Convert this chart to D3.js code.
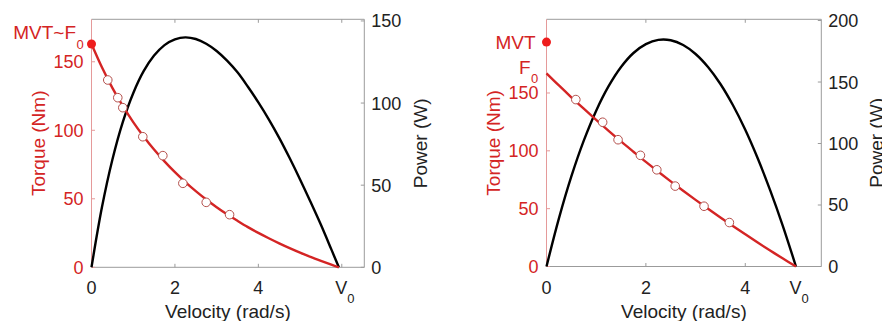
<!DOCTYPE html>
<head>
  <meta charset="utf-8">
  <script src="https://d3js.org/d3.v7.min.js"></script>
  <style>
    body { margin:0; background:#fff; }
    text { font-family: "Liberation Sans", Arial, sans-serif; }
  </style>
</head>
<body>
<script>
// ---- left panel (curved torque-velocity) ----
var velA    = [0, 0.25, 0.5, 0.75, 1, 1.25, 1.5, 1.75, 2, 2.25, 2.5, 2.75, 3, 3.25, 3.5, 3.75, 4, 4.25, 4.5, 4.75, 5, 5.25, 5.5, 5.75, 5.93];
var torqueA = [163, 146, 131, 117.8, 106, 95.5, 85.9, 77.3, 69.4, 62.2, 55.6, 49.5, 43.9, 38.7, 33.9, 29.3, 25.1, 21.2, 17.5, 14, 10.7, 7.6, 4.7, 1.9, 0];
var powerA  = [0, 36.5, 65.5, 88.4, 106, 119.4, 128.9, 135.3, 138.8, 140, 139, 136.1, 131.7, 125.8, 118.7, 109.9, 100.4, 90.1, 78.8, 66.5, 53.5, 39.9, 25.9, 10.9, 0];
var obsVelA = [0.39, 0.63, 0.75, 1.23, 1.71, 2.19, 2.75, 3.31];
var obsTorA = [136.7, 123.8, 116.5, 95.3, 81.5, 61.3, 47.4, 38.4];
var mvtA = 163, v0A = 5.93;

// ---- right panel (near-linear torque-velocity) ----
var velB    = [0, 0.25, 0.5, 0.75, 1, 1.25, 1.5, 1.75, 2, 2.25, 2.5, 2.75, 3, 3.25, 3.5, 3.75, 4, 4.25, 4.5, 4.75, 5.02];
var torqueB = [167, 156.5, 146.3, 136.4, 126.7, 117.3, 108.1, 99.2, 90.4, 81.9, 73.6, 65.5, 57.6, 49.9, 42.4, 35, 27.8, 20.7, 13.8, 7.1, 0];
var powerB  = [0, 39.1, 73.2, 102.3, 126.7, 146.6, 162.2, 173.6, 180.8, 184.3, 184, 180.1, 172.8, 162.2, 148.4, 131.3, 111.2, 88, 62.1, 33.7, 0];
var obsVelB = [0.59, 1.13, 1.44, 1.89, 2.22, 2.59, 3.17, 3.68];
var obsTorB = [144.3, 124.7, 109.6, 96.1, 83.6, 69.5, 52.1, 38];
var mvtB = 194, f0B = 167, v0B = 5.02;

var torqueTicks = [0, 50, 100, 150];
var powerTicksA = [0, 50, 100, 150];
var powerTicksB = [0, 50, 100, 150, 200];

var RED = "#d42424", DOT = "#ee1c1c", AX = "#9b9b9b", RAX = "#e59a9a", INK = "#222";

var svg = d3.select("body").append("svg").attr("width", 882).attr("height", 321);

function panel(o) {
  var x = d3.scaleLinear().domain([0, o.xmax]).range([o.left, o.right]);
  var yT = d3.scaleLinear().domain([0, o.tmax]).range([o.bottom, o.top]);
  var yP = d3.scaleLinear().domain([0, o.pmax]).range([o.bottom, o.top]);
  var g = svg.append("g");

  // frame: top + bottom gray, right gray, left red
  g.append("line").attr("x1", o.left).attr("x2", o.right).attr("y1", o.top).attr("y2", o.top).attr("stroke", AX);
  g.append("line").attr("x1", o.left).attr("x2", o.right).attr("y1", o.bottom).attr("y2", o.bottom).attr("stroke", AX);
  g.append("line").attr("x1", o.right).attr("x2", o.right).attr("y1", o.top).attr("y2", o.bottom).attr("stroke", AX);
  g.append("line").attr("x1", o.left).attr("x2", o.left).attr("y1", o.top).attr("y2", o.bottom).attr("stroke", RAX);

  // x ticks (inward, top and bottom)
  o.xTicks.forEach(function(t) {
    g.append("line").attr("x1", x(t)).attr("x2", x(t)).attr("y1", o.top).attr("y2", o.top + 3.5).attr("stroke", AX);
    g.append("line").attr("x1", x(t)).attr("x2", x(t)).attr("y1", o.bottom).attr("y2", o.bottom - 3.5).attr("stroke", AX);
  });
  [0, 2, 4].forEach(function(t) {
    g.append("text").attr("x", x(t)).attr("y", o.bottom + 27).attr("text-anchor", "middle")
      .attr("font-size", 18).attr("fill", INK).text(t);
  });
  var v0 = g.append("text").attr("x", x(o.v0lab) - 6.5).attr("y", o.bottom + 27).attr("font-size", 18).attr("fill", INK);
  v0.append("tspan").text("V");
  v0.append("tspan").attr("font-size", 13).attr("dy", 9).text("0");

  // left torque axis (red)
  torqueTicks.forEach(function(t) {
    g.append("line").attr("x1", o.left).attr("x2", o.left + 3.5).attr("y1", yT(t)).attr("y2", yT(t)).attr("stroke", RAX);
    g.append("text").attr("x", o.left - 8).attr("y", yT(t)).attr("dy", "0.36em").attr("text-anchor", "end")
      .attr("font-size", 18).attr("fill", RED).text(t);
  });
  // right power axis
  o.pTicks.forEach(function(t) {
    g.append("line").attr("x1", o.right).attr("x2", o.right - 3.5).attr("y1", yP(t)).attr("y2", yP(t)).attr("stroke", AX);
    g.append("text").attr("x", o.right + 7).attr("y", yP(t)).attr("dy", "0.36em")
      .attr("font-size", 18).attr("fill", INK).text(t);
  });

  // axis titles
  g.append("text").attr("x", (o.left + o.right) / 2).attr("y", 318).attr("text-anchor", "middle")
    .attr("font-size", 19).attr("fill", INK).text("Velocity (rad/s)");
  g.append("text").attr("transform", "translate(" + (o.left - 46.5) + "," + ((o.top + o.bottom) / 2) + ") rotate(-90)")
    .attr("text-anchor", "middle").attr("font-size", 19).attr("fill", RED).text("Torque (Nm)");
  g.append("text").attr("transform", "translate(" + (o.right + o.pOff) + "," + ((o.top + o.bottom) / 2) + ") rotate(-90)")
    .attr("text-anchor", "middle").attr("font-size", 19).attr("fill", INK).text("Power (W)");

  var smooth = d3.curveCatmullRom.alpha(0.5);
  // power curve
  g.append("path").datum(d3.zip(o.vel, o.pow))
    .attr("d", d3.line().x(function(d) { return x(d[0]); }).y(function(d) { return yP(d[1]); }).curve(smooth))
    .attr("fill", "none").attr("stroke", "#000").attr("stroke-width", 2.4);
  // torque curve
  g.append("path").datum(d3.zip(o.vel, o.tor))
    .attr("d", d3.line().x(function(d) { return x(d[0]); }).y(function(d) { return yT(d[1]); }).curve(smooth))
    .attr("fill", "none").attr("stroke", RED).attr("stroke-width", 2.4);
  // observed points
  g.selectAll(".obs").data(d3.zip(o.obsV, o.obsT)).enter().append("circle")
    .attr("cx", function(d) { return x(d[0]); }).attr("cy", function(d) { return yT(d[1]); })
    .attr("r", 4.3).attr("fill", "#fff").attr("stroke", "#b4504c").attr("stroke-width", 1);
  // MVT dot
  g.append("circle").attr("cx", x(0)).attr("cy", yT(o.mvt)).attr("r", 4.5).attr("fill", DOT);
  return { x: x, yT: yT, g: g };
}

var A = panel({ left: 91.5, right: 364.3, top: 19.3, bottom: 267.3, xmax: 6.54, tmax: 181, pmax: 151,
  xTicks: [2, 4, 6], v0lab: 6, pTicks: powerTicksA, pOff: 63,
  vel: velA, tor: torqueA, pow: powerA, obsV: obsVelA, obsT: obsTorA, mvt: mvtA });
A.g.append("text").attr("x", 76).attr("y", A.yT(mvtA) - 4.5).attr("text-anchor", "end")
  .attr("font-size", 19).attr("fill", RED).text("MVT~F");
A.g.append("text").attr("x", 76.5).attr("y", A.yT(mvtA) + 5.5).attr("font-size", 13).attr("fill", RED).text("0");

var B = panel({ left: 546.5, right: 821.3, top: 19.3, bottom: 266.5, xmax: 5.53, tmax: 213.7, pmax: 201,
  xTicks: [2, 4], v0lab: v0B, pTicks: powerTicksB, pOff: 61.5,
  vel: velB, tor: torqueB, pow: powerB, obsV: obsVelB, obsT: obsTorB, mvt: mvtB });
B.g.append("text").attr("x", 535.5).attr("y", B.yT(mvtB)).attr("dy", "0.36em").attr("text-anchor", "end")
  .attr("font-size", 19).attr("fill", RED).text("MVT");
B.g.append("text").attr("x", 530.5).attr("y", B.yT(f0B) + 1).attr("text-anchor", "end")
  .attr("font-size", 19).attr("fill", RED).text("F");
B.g.append("text").attr("x", 531).attr("y", B.yT(f0B) + 9.5).attr("font-size", 13).attr("fill", RED).text("0");
</script>
</body>
